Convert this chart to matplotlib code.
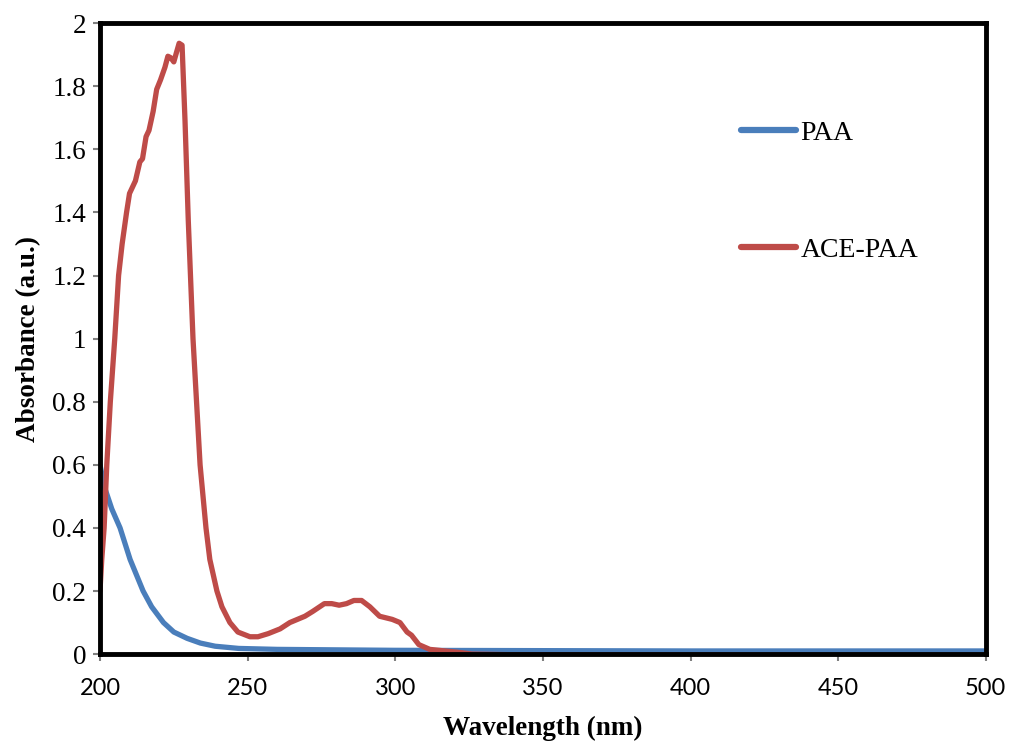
import matplotlib.pyplot as plt
import numpy as np

# Absorbance spectra
wl_ace = [200, 200.6, 201.4, 202.3, 203.5, 205, 206.3, 207.5, 209, 210, 212, 213.5, 214.4,
          215.6, 216.6, 218, 219.2, 220.5, 222, 223, 224, 225, 226, 226.8, 227.8, 228.8,
          229.9, 231.5, 233.9, 235.9, 237.2, 239.6, 241.3, 244, 246.7, 250.8, 253.5, 257,
          261, 264.3, 269.4, 272, 276, 278.5, 281, 283.5, 286, 288.6, 291.4, 294.7, 299,
          301.6, 304, 305.5, 308, 311.7, 316.8, 322, 326, 340, 400, 450, 500]
abs_ace = [0.20, 0.30, 0.40, 0.60, 0.80, 1.00, 1.20, 1.30, 1.40, 1.46, 1.50, 1.56, 1.57,
           1.64, 1.66, 1.72, 1.79, 1.82, 1.86, 1.895, 1.89, 1.877, 1.91, 1.936, 1.93, 1.69,
           1.375, 1.00, 0.60, 0.40, 0.30, 0.20, 0.15, 0.10, 0.07, 0.055, 0.055, 0.065,
           0.08, 0.10, 0.12, 0.135, 0.16, 0.16, 0.155, 0.16, 0.17, 0.17, 0.15, 0.12, 0.11,
           0.10, 0.07, 0.06, 0.03, 0.015, 0.01, 0.005, 0.0, -0.002, -0.003, -0.004, -0.004]

wl_paa = [200, 201.5, 204, 206.8, 210.2, 214.6, 217.5, 221.5, 225, 229.5, 234, 239, 247,
          260, 300, 350, 400, 450, 500]
abs_paa = [0.60, 0.53, 0.46, 0.40, 0.30, 0.20, 0.15, 0.10, 0.07, 0.05, 0.035, 0.025, 0.018,
           0.015, 0.012, 0.011, 0.010, 0.010, 0.010]

xticks = [200, 250, 300, 350, 400, 450, 500]
yticks = [0, 0.2, 0.4, 0.6, 0.8, 1.0, 1.2, 1.4, 1.6, 1.8, 2.0]
ytick_labels = ['0', '0.2', '0.4', '0.6', '0.8', '1', '1.2', '1.4', '1.6', '1.8', '2']

blue = '#4A7EBB'
red = '#BE4B48'

plt.rcParams['font.family'] = ['Liberation Serif', 'DejaVu Serif']

fig = plt.figure(figsize=(10.1, 7.45), dpi=100)
ax = fig.add_axes([0.099, 0.122, 0.877, 0.847])

ax.plot(wl_paa, abs_paa, color=blue, linewidth=3.8, label='PAA', solid_capstyle='round')
ax.plot(wl_ace, abs_ace, color=red, linewidth=3.8, label='ACE-PAA', solid_capstyle='round')

ax.set_xlim(200, 500)
ax.set_ylim(0, 2)
ax.set_xticks(xticks)
ax.set_yticks(yticks)
ax.set_yticklabels(ytick_labels)
ax.tick_params(direction='out', length=5, width=1.5, color='#808080')
ax.tick_params(axis='y', labelsize=19.5, pad=5)
ax.tick_params(axis='x', labelsize=17, pad=12)
for lab in ax.get_xticklabels():
    lab.set_fontfamily(['Lato', 'DejaVu Sans'])

for s in ax.spines.values():
    s.set_color('black')
    s.set_linewidth(3.5)

ax.set_xlabel('Wavelength (nm)', fontsize=19.5, fontweight='bold', labelpad=12)
ax.set_ylabel('Absorbance (a.u.)', fontsize=19.5, fontweight='bold', labelpad=8)

leg = ax.legend(loc='upper left', bbox_to_anchor=(0.695, 0.885), frameon=False,
                fontsize=20, handlelength=2.0, handletextpad=0.15, labelspacing=3.3)
for h in leg.get_lines():
    h.set_solid_capstyle('round')
    h.set_linewidth(4.5)

fig.savefig('out.png', dpi=100)
